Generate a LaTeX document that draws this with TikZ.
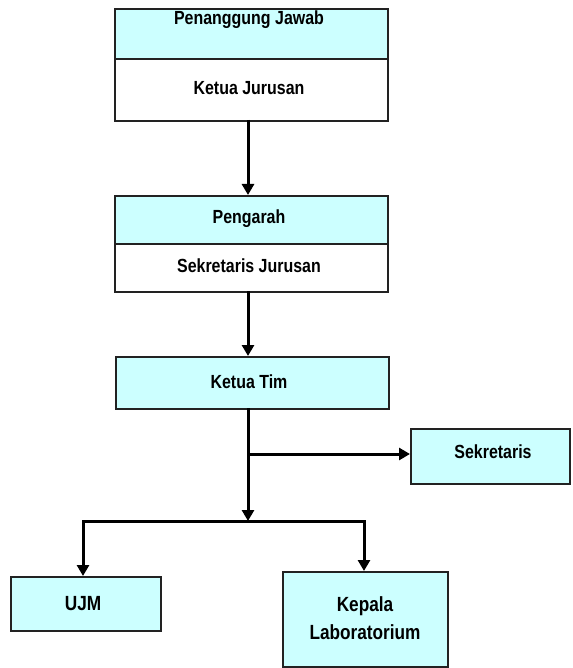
\documentclass[tikz,border=0pt]{standalone}
\usepackage{fontspec}
\setmainfont{Liberation Sans}[FakeStretch=0.84]
\usetikzlibrary{arrows.meta}
\definecolor{boxcyan}{HTML}{CCFFFF}
\definecolor{edge}{HTML}{222222}
\tikzset{
  box/.style={draw=edge, line width=1.6pt, rectangle, inner sep=0pt},
  cyanbox/.style={box, fill=boxcyan},
  whitebox/.style={box, fill=white},
  lbl/.style={font=\bfseries\fontsize{19}{23}\selectfont, text=black, inner sep=0pt, align=center},
  biglbl/.style={lbl, font=\bfseries\fontsize{20.5}{24}\selectfont},
  conn/.style={line width=3pt, black},
  arr/.style={conn, -{Triangle[length=11pt,width=12pt]}}
}
\begin{document}
\begin{tikzpicture}[x=1pt,y=-1pt]
\useasboundingbox (0,0) rectangle (572,668);
% box 1
\node[cyanbox, minimum width=273pt, minimum height=50pt, anchor=north west] (pjbox) at (114,8) {};
\node[lbl, anchor=center] (pj) at (249,20) {Penanggung Jawab};
\node[whitebox, minimum width=273pt, minimum height=62pt, anchor=north west] (kj) at (114,58) {};
\node[lbl] (kjt) at (249,88) {Ketua Jurusan};
% box 2
\node[cyanbox, minimum width=273pt, minimum height=48pt, anchor=north west] (pg) at (114,195) {};
\node[lbl] (pgt) at (249,219) {Pengarah};
\node[whitebox, minimum width=273pt, minimum height=48pt, anchor=north west] (sj) at (114,243) {};
\node[lbl] (sjt) at (249,266) {Sekretaris Jurusan};
% box 3
\node[cyanbox, minimum width=273pt, minimum height=52pt, anchor=north west] (kt) at (115,356) {};
\node[lbl] (ktt) at (249,382) {Ketua Tim};
% sekretaris
\node[cyanbox, minimum width=159pt, minimum height=55pt, anchor=north west] (sk) at (410,428) {};
\node[lbl] (skt) at (493,452) {Sekretaris};
% UJM
\node[cyanbox, minimum width=150pt, minimum height=54pt, anchor=north west] (ujm) at (10,576) {};
\node[biglbl] (ujmt) at (83,604) {UJM};
% Kepala Lab
\node[cyanbox, minimum width=165pt, minimum height=95pt, anchor=north west] (kl) at (282,571) {};
\node[biglbl] (klt) at (365,618) {Kepala\\[4pt]Laboratorium};
% connectors
\coordinate (a1) at (248,120);
\coordinate (a2) at (248,195);
\coordinate (b1) at (248,291);
\coordinate (b2) at (248,356);
\coordinate (c1) at (248,408);
\coordinate (j1) at (248,454);
\coordinate (j2) at (248,521);
\coordinate (jl) at (83,521);
\coordinate (jr) at (364,521);
\draw[arr] (a1) -- (a2);
\draw[arr] (b1) -- (b2);
\draw[arr] (c1) -- (j2);
\draw[arr] (j1) -- (sk.west |- j1);
\draw[conn, line cap=rect] (jl) -- (jr);
\draw[arr] (jl) -- (jl |- ujm.north);
\draw[arr] (jr) -- (jr |- kl.north);
\end{tikzpicture}
\end{document}
